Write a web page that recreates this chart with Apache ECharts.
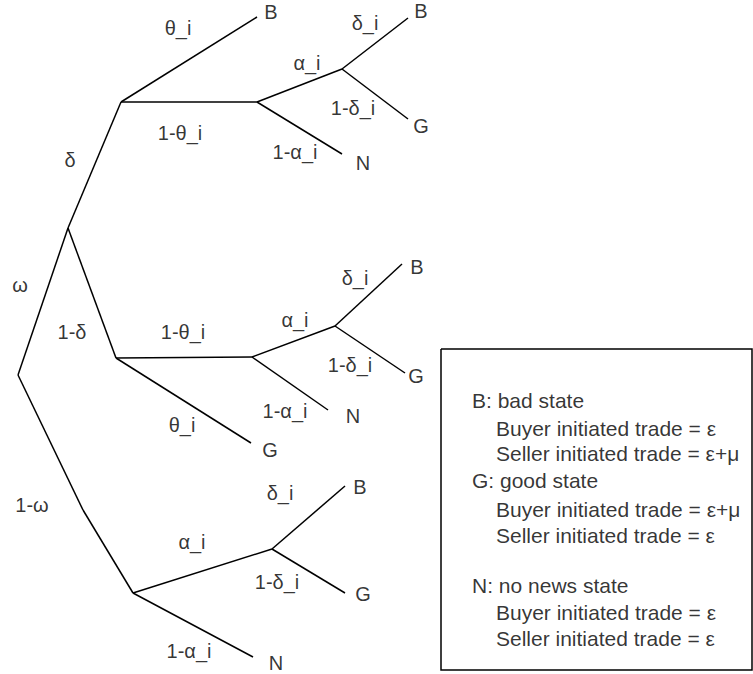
<!DOCTYPE html>
<html>
<head>
<meta charset="utf-8">
<script src="https://cdn.jsdelivr.net/npm/echarts@6/dist/echarts.min.js"></script>
<style>
html,body{margin:0;padding:0;background:#fff;}
#main{width:753px;height:674px;}
</style>
</head>
<body>
<div id="main"></div>
<script>
// Tree nodes: [id, x, y] (positions, in chart units)
var nodes = [
  ['root', 18, 375],
  ['w1', 68, 228],
  ['w0k', 83, 510],
  ['d1', 121, 102],
  ['d1B', 257, 17],
  ['d1a', 257, 102],
  ['d1ad', 342, 69],
  ['d1adB', 408, 18],
  ['d1adG', 408, 119],
  ['d1aN', 342, 154],
  ['d0', 116, 358],
  ['d0a', 252, 357],
  ['d0ad', 335, 326],
  ['d0adB', 402, 264],
  ['d0adG', 405, 373],
  ['d0aN', 328, 410],
  ['d0G', 251, 443],
  ['w0', 133, 593],
  ['w0ad', 272, 549],
  ['w0adB', 345, 486],
  ['w0adG', 345, 593],
  ['w0aN', 253, 657]
];
// Branches: [from, to]
var edges = [
  ['root', 'w1'], ['root', 'w0k'], ['w0k', 'w0'],
  ['w1', 'd1'], ['w1', 'd0'],
  ['d1', 'd1B'], ['d1', 'd1a'], ['d1a', 'd1ad'], ['d1a', 'd1aN'],
  ['d1ad', 'd1adB'], ['d1ad', 'd1adG'],
  ['d0', 'd0a'], ['d0', 'd0G'], ['d0a', 'd0ad'], ['d0a', 'd0aN'],
  ['d0ad', 'd0adB'], ['d0ad', 'd0adG'],
  ['w0', 'w0ad'], ['w0', 'w0aN'], ['w0ad', 'w0adB'], ['w0ad', 'w0adG']
];
// Branch / outcome labels: [text, x, y]
var treeLabels = [
  ['B', 271, 12], ['θ_i', 178, 28], ['1-θ_i', 180, 133], ['α_i', 307, 63],
  ['δ_i', 365, 23], ['B', 421, 11], ['1-δ_i', 353, 108], ['G', 421, 126],
  ['1-α_i', 295, 152], ['N', 363, 163], ['δ', 70, 160], ['ω', 20, 285],
  ['1-δ', 72, 332], ['1-θ_i', 183, 332], ['α_i', 295, 320], ['δ_i', 355, 278],
  ['B', 417, 267], ['1-δ_i', 350, 365], ['G', 416, 376], ['1-α_i', 285, 411],
  ['N', 353, 416], ['θ_i', 182, 425], ['G', 270, 450], ['1-ω', 32, 505],
  ['δ_i', 280, 493], ['B', 360, 487], ['α_i', 192, 542], ['1-δ_i', 277, 582],
  ['G', 363, 594], ['1-α_i', 189, 651], ['N', 276, 663]
];
// Legend box text lines: [text, x, y]
var boxLines = [
  ['B: bad state', 472, 400],
  ['Buyer initiated trade = ε', 496, 428],
  ['Seller initiated trade = ε+μ', 496, 453],
  ['G: good state', 472, 480],
  ['Buyer initiated trade = ε+μ', 496, 509],
  ['Seller initiated trade = ε', 496, 535],
  ['N: no news state', 472, 585],
  ['Buyer initiated trade = ε', 496, 612],
  ['Seller initiated trade = ε', 496, 638]
];
// Legend box outline corners
var boxCorners = [[441, 349], [752, 349], [752, 670], [441, 670], [441, 349]];

var pos = {};
nodes.forEach(function (n) { pos[n[0]] = [n[1], n[2]]; });
var edgeData = edges.map(function (e) { return { coords: [pos[e[0]], pos[e[1]]] }; });

var FONT = '"Liberation Sans", Arial, sans-serif';
var chart = echarts.init(document.getElementById('main'), null, { renderer: 'svg' });
chart.setOption({
  animation: false,
  backgroundColor: '#ffffff',
  grid: { left: 0, right: 0, top: 0, bottom: 0 },
  xAxis: { type: 'value', min: 0, max: 753, show: false },
  yAxis: { type: 'value', min: 0, max: 674, inverse: true, show: false },
  series: [
    {
      type: 'lines', coordinateSystem: 'cartesian2d', silent: true,
      lineStyle: { color: '#000', width: 1.5, opacity: 1 },
      data: edgeData
    },
    {
      type: 'lines', coordinateSystem: 'cartesian2d', polyline: true, silent: true,
      lineStyle: { color: '#000', width: 1.5, opacity: 1 },
      data: [{ coords: boxCorners }]
    },
    {
      type: 'scatter', symbolSize: 0, silent: true,
      label: { show: true, position: 'inside', formatter: '{b}', color: '#000',
               fontFamily: FONT, fontSize: 20 },
      data: treeLabels.map(function (l) { return { name: l[0], value: [l[1], l[2]] }; })
    },
    {
      type: 'scatter', symbolSize: 0, silent: true,
      label: { show: true, position: 'inside', formatter: '{b}', color: '#000',
               fontFamily: FONT, fontSize: 21, align: 'left', verticalAlign: 'middle' },
      data: boxLines.map(function (l) { return { name: l[0], value: [l[1], l[2]] }; })
    }
  ]
});
</script>
</body>
</html>
